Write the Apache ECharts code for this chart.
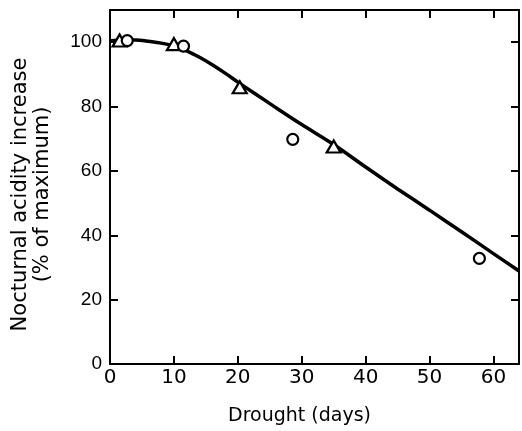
<!DOCTYPE html>
<html>
<head>
<meta charset="utf-8">
<script src="https://cdn.jsdelivr.net/npm/echarts@6/dist/echarts.min.js"></script>
<style>html,body{margin:0;padding:0;background:#fff;}#c{width:522px;height:431px;}</style>
</head>
<body>
<div id="c"></div>
<script>
// Fitted curve
var curveX = [0, 2, 4, 6, 8, 10, 12, 14, 16, 18, 20, 23, 26, 30, 35, 40, 45, 50, 55, 60, 64];
var curveY = [100.4, 100.7, 100.7, 100.3, 99.7, 98.8, 97.3, 95.3, 93.0, 90.4, 87.6, 83.6, 79.6, 74.4, 68.2, 61.2, 54.4, 47.8, 41.1, 34.3, 28.9];
// Triangles
var triX = [1.5, 10, 20.3, 35];
var triY = [100.5, 99.4, 86, 67.6];
// Circles
var cirX = [2.7, 11.5, 28.6, 57.8];
var cirY = [100.5, 98.8, 69.8, 32.8];
var xTicks = [0, 10, 20, 30, 40, 50, 60];
var yTicks = [0, 20, 40, 60, 80, 100];

function pairs(xs, ys) { return xs.map(function (x, i) { return [x, ys[i]]; }); }

var font = 'DejaVu Sans';
var chart = echarts.init(document.getElementById('c'), null, {renderer: 'canvas'});
var axisLine = {show: true, onZero: false, lineStyle: {color: '#000', width: 2}};
var tick = {show: true, inside: true, length: 8, lineStyle: {color: '#000', width: 2}};
chart.setOption({
  backgroundColor: '#fff',
  animation: false,
  grid: {left: 110, right: 1, top: 10, bottom: 61, containLabel: false},
  xAxis: [{
    type: 'value', min: 0, max: 64, interval: 10, position: 'bottom',
    axisLine: axisLine,
    axisTick: tick,
    splitLine: {show: false},
    axisLabel: {
      color: '#000', fontFamily: font, fontSize: 20, margin: 4,
      formatter: function (v) { return xTicks.indexOf(v) >= 0 ? String(v) : ''; }
    },
    name: 'Drought (days)', nameLocation: 'middle', nameGap: 43,
    nameTextStyle: {color: '#000', fontFamily: font, fontSize: 19, padding: [0, 30, 0, 0]}
  }, {
    type: 'value', min: 0, max: 64, interval: 10, position: 'top',
    axisLine: axisLine,
    axisTick: tick, axisLabel: {show: false}, splitLine: {show: false}
  }],
  yAxis: [{
    type: 'value', min: 0, max: 110, interval: 20, position: 'left',
    axisLine: axisLine,
    axisTick: tick,
    splitLine: {show: false},
    axisLabel: {
      color: '#000', fontFamily: 'Liberation Sans', fontSize: 19, margin: 8,
      formatter: function (v) { return yTicks.indexOf(v) >= 0 ? String(v) : ''; }
    },
    name: 'Nocturnal acidity increase\n(% of maximum)', nameLocation: 'middle', nameGap: 56,
    nameTextStyle: {color: '#000', fontFamily: font, fontSize: 21, lineHeight: 22, padding: [0, 15, 0, 0]}
  }, {
    type: 'value', min: 0, max: 110, interval: 20, position: 'right',
    axisLine: axisLine,
    axisTick: tick, axisLabel: {show: false}, splitLine: {show: false}
  }],
  series: [{
    type: 'line', data: pairs(curveX, curveY), smooth: 0.3, showSymbol: false,
    lineStyle: {color: '#000', width: 3.5}, z: 2
  }, {
    type: 'scatter', data: pairs(triX, triY), symbol: 'triangle', symbolSize: [14, 12],
    itemStyle: {color: '#fff', borderColor: '#000', borderWidth: 2.2, opacity: 1}, z: 3
  }, {
    type: 'scatter', data: pairs(cirX, cirY), symbol: 'circle', symbolSize: 11,
    itemStyle: {color: '#fff', borderColor: '#000', borderWidth: 2.2, opacity: 1}, z: 3
  }]
});
</script>
</body>
</html>
